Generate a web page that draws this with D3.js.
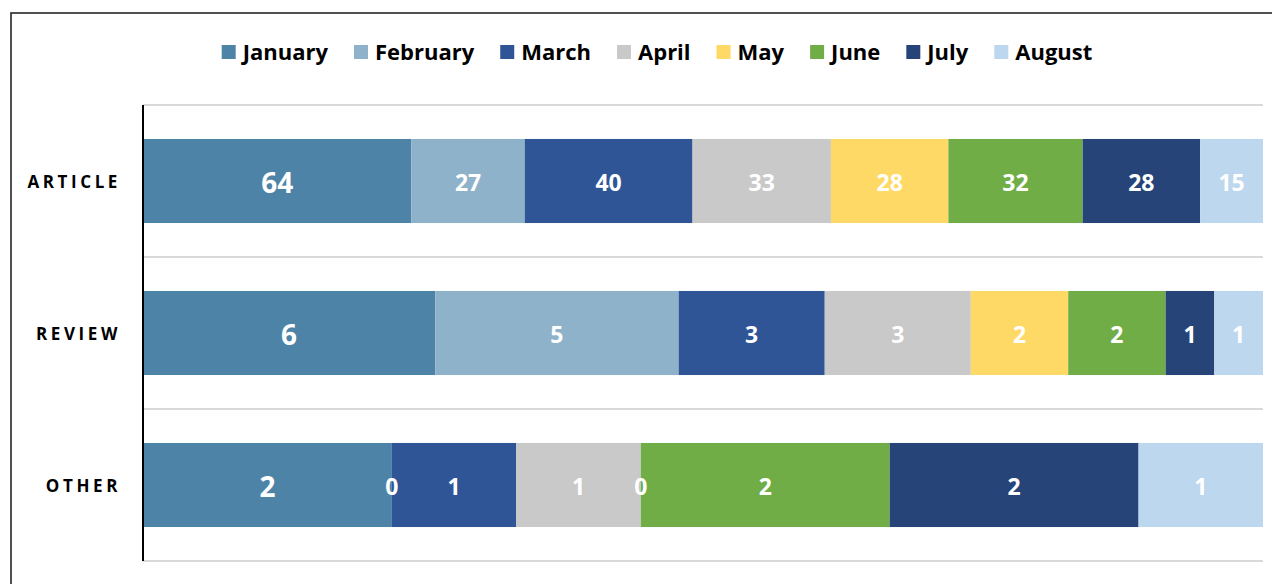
<!DOCTYPE html>
<html>
<head>
<meta charset="utf-8">
<script src="https://d3js.org/d3.v7.min.js"></script>
<style>
  body { margin: 0; background: #fff; }
  text { font-family: "Open Sans", "Noto Sans", sans-serif; }
</style>
</head>
<body>
<div id="chart"></div>
<script>
// data
var categories = ["ARTICLE", "REVIEW", "OTHER"];
var months = ["January", "February", "March", "April", "May", "June", "July", "August"];
var article = [64, 27, 40, 33, 28, 32, 28, 15];
var review = [6, 5, 3, 3, 2, 2, 1, 1];
var other = [2, 0, 1, 1, 0, 2, 2, 1];
var colors = ["#4E83A8", "#8FB2CB", "#2F5597", "#C9C9C9", "#FFD966", "#70AD47", "#264478", "#BDD7EE"];

var svgWidth = 1272;
var svgHeight = 584;

var margin = { top: 105, right: 9, bottom: 23, left: 143 };

var width = svgWidth - margin.left - margin.right;
var height = svgHeight - margin.top - margin.bottom;

var svg = d3.select("#chart")
  .append("svg")
  .attr("width", svgWidth)
  .attr("height", svgHeight);

// outer frame (cut off on the right and bottom like the source)
svg.append("rect")
  .attr("x", 11)
  .attr("y", 13)
  .attr("width", svgWidth + 20)
  .attr("height", svgHeight + 20)
  .attr("fill", "none")
  .attr("stroke", "#262626")
  .attr("stroke-width", 1.6);

var chartGroup = svg.append("g")
  .attr("transform", `translate(${margin.left}, ${margin.top})`);

// build rows for the stack
var rows = categories.map(function(c, i) {
  var vals = [article, review, other][i];
  var row = { category: c };
  months.forEach(function(m, j) { row[m] = vals[j]; });
  return row;
});

var series = d3.stack()
  .keys(months)
  .offset(d3.stackOffsetExpand)(rows);

var xScale = d3.scaleLinear()
  .domain([0, 1])
  .range([0, width]);

var yScale = d3.scaleBand()
  .domain(categories)
  .range([0, height])
  .paddingInner(0.447)
  .paddingOuter(0.2235);

var colorScale = d3.scaleOrdinal()
  .domain(months)
  .range(colors);

// horizontal gridlines on band edges
var step = yScale.step();
chartGroup.selectAll(".grid")
  .data(d3.range(categories.length + 1))
  .enter()
  .append("line")
  .attr("x1", 0)
  .attr("x2", width)
  .attr("y1", d => d * step)
  .attr("y2", d => d * step)
  .attr("stroke", "#d9d9d9")
  .attr("stroke-width", 2);

// bars
var layers = chartGroup.selectAll(".layer")
  .data(series)
  .enter()
  .append("g")
  .attr("fill", d => colorScale(d.key));

layers.selectAll("rect")
  .data(d => d)
  .enter()
  .append("rect")
  .attr("x", d => xScale(d[0]))
  .attr("y", d => yScale(d.data.category))
  .attr("width", d => xScale(d[1]) - xScale(d[0]))
  .attr("height", yScale.bandwidth());

// value labels
series.forEach(function(s) {
  chartGroup.selectAll(null)
    .data(s)
    .enter()
    .append("text")
    .attr("x", d => (xScale(d[0]) + xScale(d[1])) / 2)
    .attr("y", d => yScale(d.data.category) + yScale.bandwidth() / 2)
    .attr("dy", "0.42em")
    .attr("text-anchor", "middle")
    .attr("fill", "#fff")
    .style("font-weight", "bold")
    .style("font-size", s.key === "January" ? "28px" : "23px")
    .text(d => d.data[s.key]);
});

// y axis line
chartGroup.append("line")
  .attr("x1", 0)
  .attr("x2", 0)
  .attr("y1", 0)
  .attr("y2", height)
  .attr("stroke", "#000")
  .attr("stroke-width", 2);

// category labels
chartGroup.selectAll(".cat")
  .data(categories)
  .enter()
  .append("text")
  .attr("x", -22)
  .attr("y", d => yScale(d) + yScale.bandwidth() / 2)
  .attr("dy", "0.42em")
  .attr("text-anchor", "end")
  .attr("fill", "#000")
  .style("font-size", "17px")
  .style("font-weight", "bold")
  .style("letter-spacing", "3.6px")
  .text(d => d);

// legend
var legend = svg.append("g");
var items = legend.selectAll(".item")
  .data(months)
  .enter()
  .append("g");

items.append("rect")
  .attr("width", 14)
  .attr("height", 14)
  .attr("y", 45)
  .attr("fill", d => colorScale(d));

items.append("text")
  .attr("x", 21)
  .attr("y", 60)
  .style("font-size", "22px")
  .style("font-weight", "bold")
  .attr("fill", "#000")
  .text(d => d);

var pos = 0;
items.each(function() {
  var g = d3.select(this);
  var w = g.select("text").node().getComputedTextLength();
  g.attr("transform", `translate(${pos}, 0)`);
  pos += 21 + w + 26;
});
var total = pos - 26;
legend.attr("transform", `translate(${657 - total / 2}, 0)`);
</script>
</body>
</html>
